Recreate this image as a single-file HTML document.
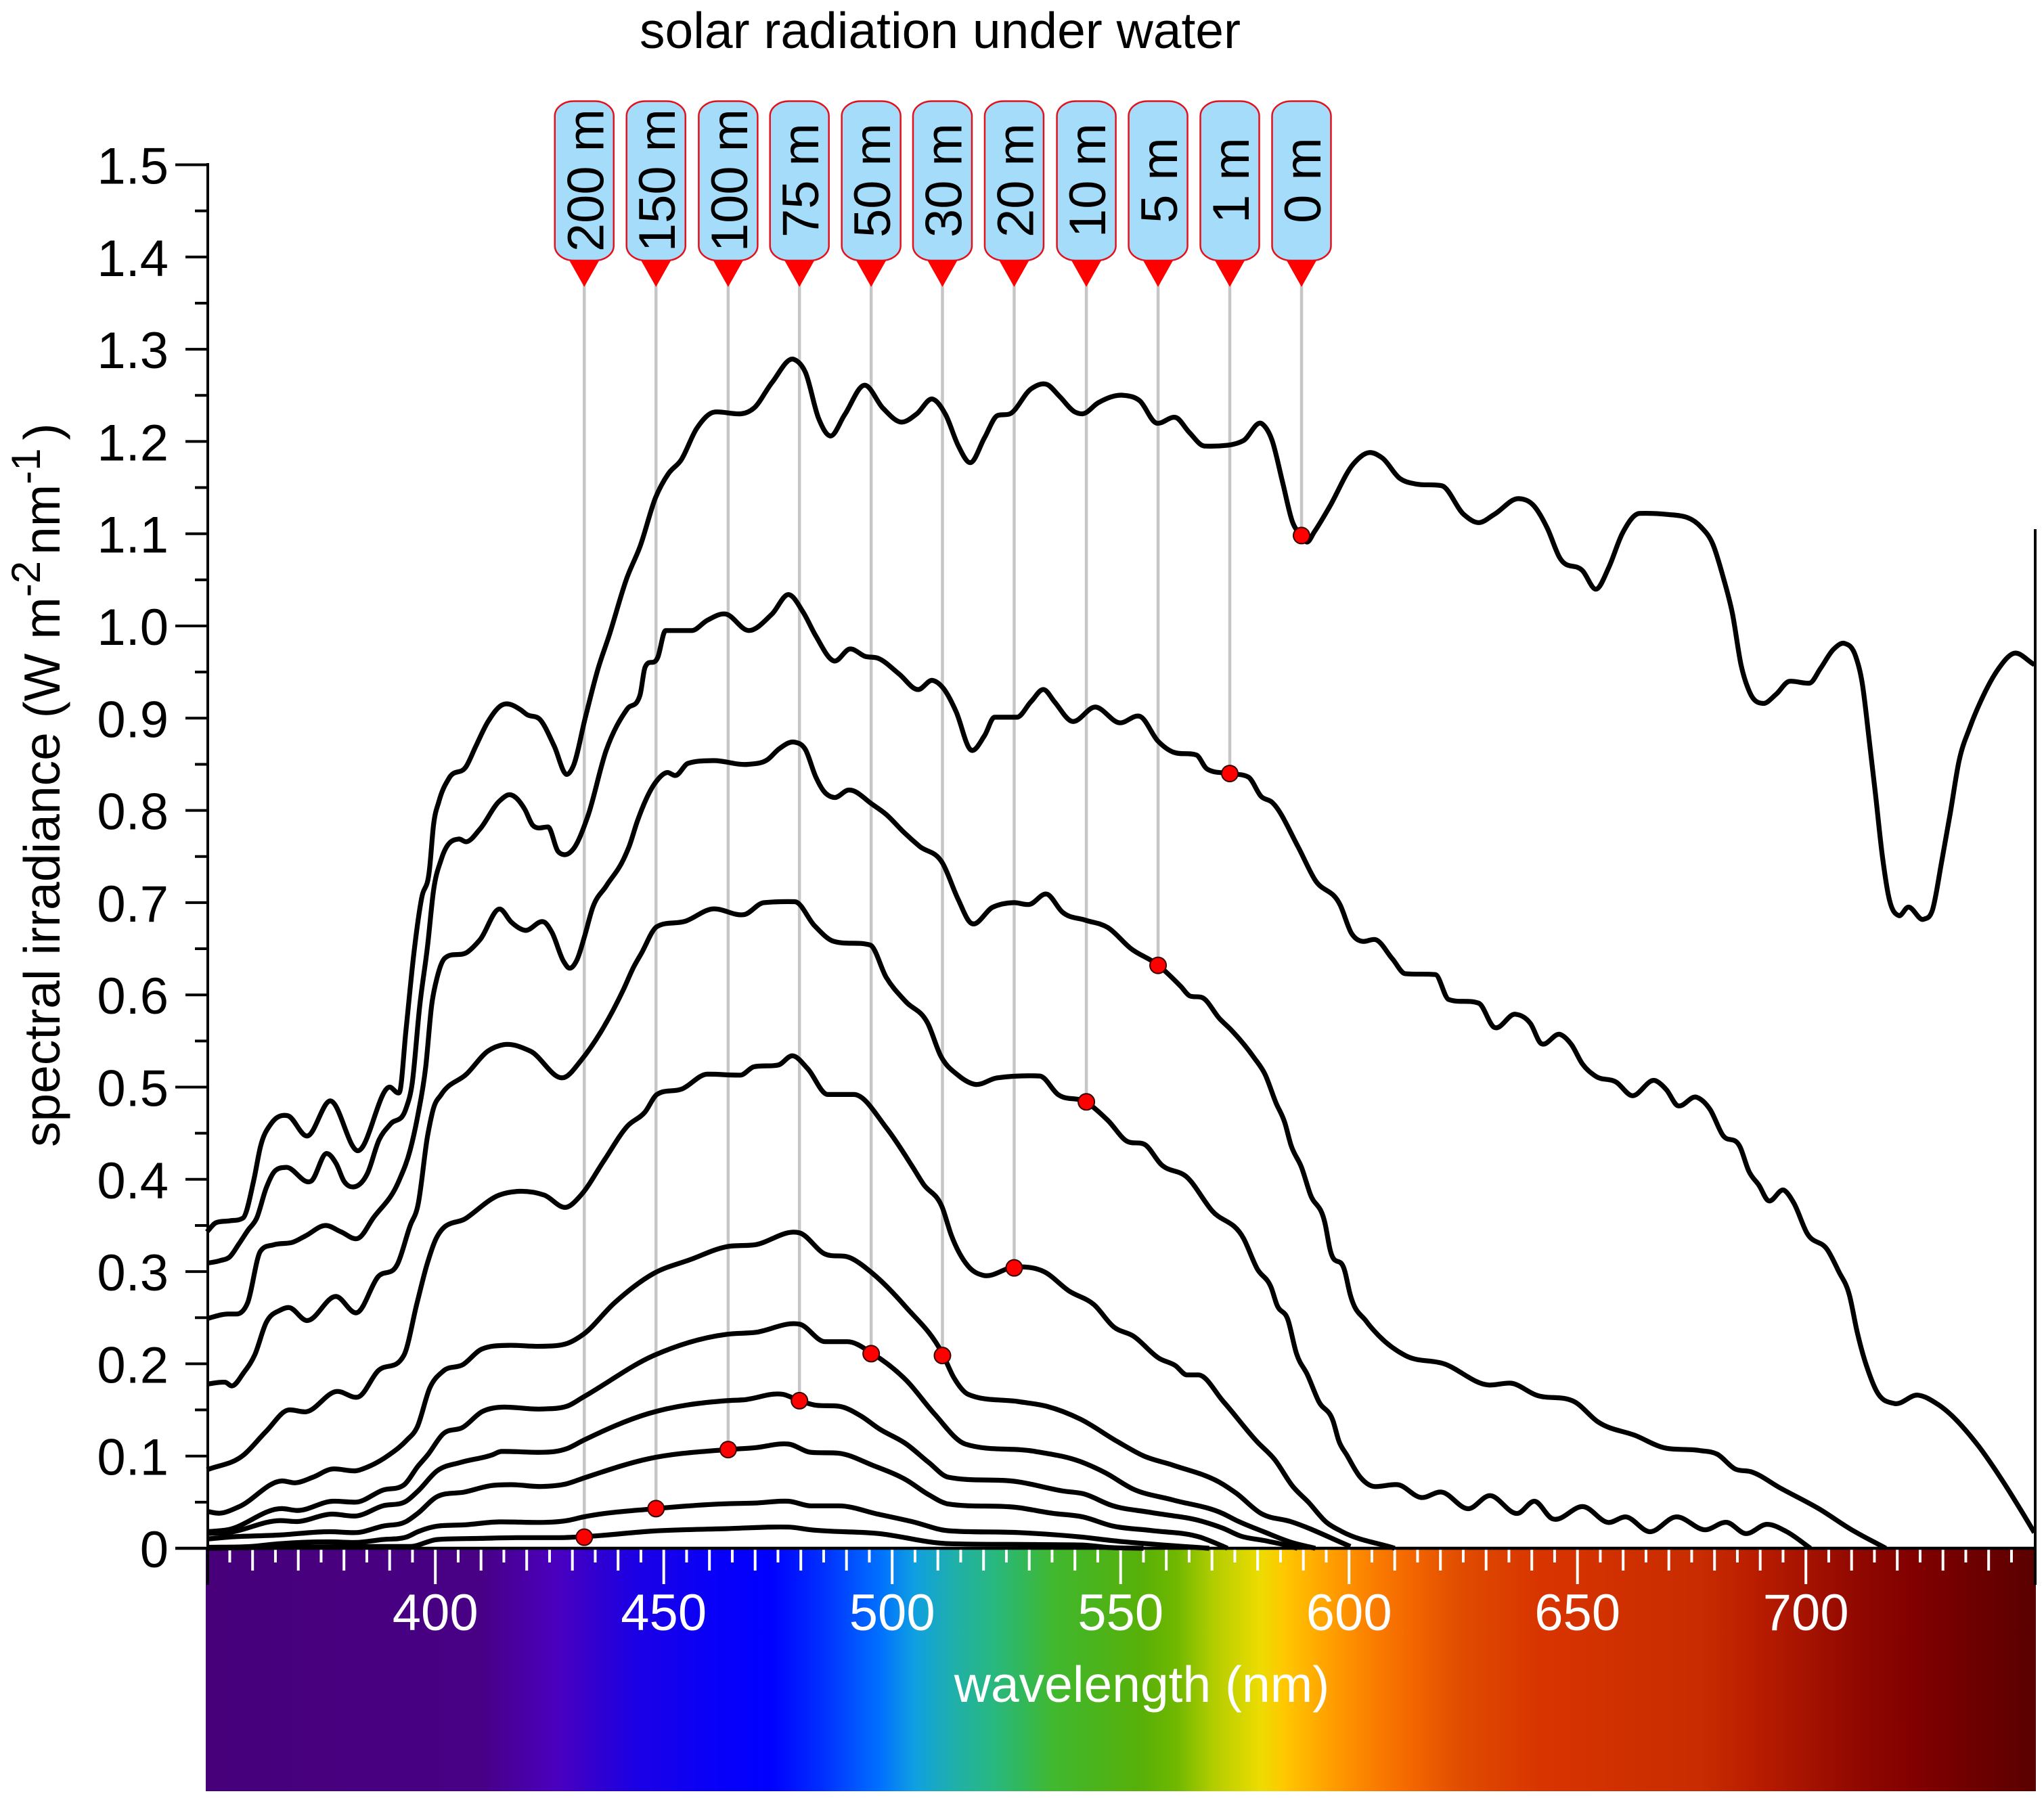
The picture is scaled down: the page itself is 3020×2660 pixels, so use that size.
<!DOCTYPE html>
<html lang="en">
<head>
<meta charset="utf-8">
<title>solar radiation under water</title>
<style>
html,body{margin:0;padding:0;background:#fff;}
svg{display:block;font-family:"Liberation Sans",sans-serif;}
</style>
</head>
<body>
<svg id="chart" xmlns="http://www.w3.org/2000/svg" width="3020" height="2660" viewBox="0 0 3020 2660">
  <defs><linearGradient id="spectrum" gradientUnits="userSpaceOnUse" x1="304" y1="0" x2="3008" y2="0"></linearGradient></defs>
  <rect x="0" y="0" width="3020" height="2660" fill="#fff"/>
  <text x="1389" y="71" font-size="75" text-anchor="middle" fill="#000">solar radiation under water</text>
  <text transform="translate(88,1695) rotate(-90)" font-size="75" fill="#000">spectral irradiance (W m<tspan font-size="60" dy="-29">-2</tspan><tspan dy="29" dx="9" font-size="75">nm</tspan><tspan font-size="60" dy="-29">-1</tspan><tspan dy="29" dx="12" font-size="75">)</tspan></text>
  <g id="spectrum-layer"></g>
  <g id="guide-layer"></g>
  <g id="curve-layer"></g>
  <g id="axis-layer"></g>
  <g id="marker-layer"></g>
  <text x="1687" y="2515" font-size="75" text-anchor="middle" fill="#fff">wavelength (nm)</text>
</svg>
<script>
// ---- categories ----
const depths = ['0 m','1 m','5 m','10 m','20 m','30 m','50 m','75 m','100 m','150 m','200 m'];

// ---- series values: wavelength (nm) and irradiance (W m-2 nm-1) ----
const wl0m = [
350,352,355,357.9,360.3,361.7,364,367.7,372,377,
383,390,392.1,393.6,395.3,397,398.7,399.6,400.8,403,
406.8,408.9,411.5,414.9,418.7,420,423,426,428.8,430.2,
432.8,435.7,438,442,444.8,448.2,451,453.8,457.2,461.2,
466.9,469.7,473.7,478.5,481,483.9,486.4,489.6,493.9,498,
502,505.4,508.8,511.7,514.5,517.1,520.2,523,525.8,530.4,
533.8,536.6,540,541.7,545.1,550.8,554.2,557.8,562.1,565,
568.4,573.5,576.9,581,583.1,585.4,587.6,589.6,590.8,592.4,595.6,
601,604.4,607.3,611.1,614.5,620.3,625.1,628.3,631.8,637.1,
640.5,643.4,646.1,651.1,654.2,656.9,659.8,663.6,669.4,677.1,
679.6,682,683.9,685.8,687.7,690.6,693.5,696.4,700.8,703.2,
706.1,708.5,710.9,712.3,713.8,715.2,716.7,718.1,720.3,722.3,
725.8,727.7,729.7,731.6,733.5,735.9,738.8,742.2,745.3,750];
const val0m = [
.343,.353,.355,.358,.40,.435,.46,.469,.447,.485,
.431,.5,.494,.563,.645,.705,.735,.784,.81,.835,
.848,.87,.896,.915,.909,.904,.898,.87,.839,.848,
.90,.955,.989,1.053,1.086,1.139,1.165,1.18,1.214,1.232,
1.23,1.236,1.264,1.289,1.275,1.225,1.206,1.229,1.261,1.236,
1.221,1.23,1.246,1.229,1.195,1.177,1.204,1.228,1.23,1.257,
1.262,1.249,1.232,1.23,1.242,1.25,1.244,1.22,1.226,1.21,
1.195,1.196,1.201,1.219,1.202,1.157,1.113,1.098,1.091,1.102,1.128,
1.176,1.188,1.182,1.16,1.154,1.152,1.121,1.112,1.121,1.138,
1.13,1.106,1.074,1.06,1.04,1.064,1.1,1.122,1.121,1.107,
1.089,1.051,1.014,.958,.928,.916,.926,.94,.938,.954,
.975,.981,.967,.939,.879,.819,.752,.707,.686,.695,
.682,.692,.744,.797,.853,.89,.924,.954,.97,.958];

const wl1m = [
350,353,355,357,359,360.9,363,364.7,367.3,372.8,
376.2,378.3,380,382.4,385.1,387.7,390.2,393.6,394.9,396.6,
398.3,399.6,401.3,405.1,406.8,409.8,414,416.3,419.6,421.3,
422.5,424.7,426.8,428.2,430.2,433.4,437.4,442,444.8,445.9,
448.7,450.4,456.1,459.5,463.5,468.6,473.7,477.4,480.5,483.3,
487.3,490.7,494.1,496.9,501.5,505.7,508.8,511.1,514,517.1,
520.2,522.4,527.3,530.4,533.2,535.5,539.1,544.5,549.7,554.2,
558.2,561.6,566.6,568.9,573.8,578,580.8,583.1,588.8,592.5,
598.1,600.5,602.9,605.7,609.5,612.3,618.9,621.8,628.4,631.7,
636.4,639.7,642.1,646.3,648.7,651.1,653.9,658.6,661.7,667.1,
669.5,671.9,676.1,679,681.8,685.6,687.5,689.8,691.7,695.3,
697.4,700.2,704.8,707.2,709.5,711.2,712.8,713.6,715.4,719.3,
724.5,728.9,737.6,742.8,747.1,750];
const val1m = [
.309,.312,.316,.33,.345,.358,.391,.408,.413,.398,
.428,.417,.398,.392,.406,.443,.46,.477,.503,.589,
.653,.713,.747,.769,.766,.78,.81,.817,.801,.784,
.781,.782,.756,.752,.758,.794,.865,.91,.925,.955,
.966,.995,.995,1.006,1.013,.995,1.013,1.034,1.015,.989,
.962,.975,.967,.965,.948,.931,.941,.933,.907,.866,
.881,.901,.901,.918,.931,.918,.897,.912,.895,.902,
.875,.863,.86,.845,.84,.836,.815,.809,.761,.725,
.697,.667,.658,.66,.639,.623,.622,.595,.591,.565,
.579,.569,.547,.557,.546,.525,.512,.505,.491,.507,
.497,.48,.489,.476,.448,.435,.409,.393,.377,.388,
.374,.342,.323,.3,.275,.235,.205,.193,.171,.157,
.166,.156,.112,.075,.041,.017];

const wl5m = [
350,354.6,356.5,358.9,361.7,364.6,368.9,371.7,376,379.4,
383.1,386.4,392,394.5,396.2,397.9,399.2,400.4,402.1,407.2,
409.8,414.2,416.6,419.6,423.8,425.5,428.1,429.3,431,432.7,
434.4,437.4,441.2,442.5,444.2,448,450.6,452.7,455.3,460.8,
468.5,472.7,475.3,478.6,481,483.3,485,487.3,490.4,495.8,
498.6,502.6,506,511,514.4,517.2,522,526.6,530,534,537.2,
542.3,547.2,552.3,558,563.2,565.1,567.9,571.7,574,579.2,
581.6,584,585.9,587.3,589.6,591.5,594.8,595.8,599.1,600.2,
603.8,606.6,612.3,620.8,630.5,635.4,641,649.3,654.5,662.8,
668.9,676.7,680.6,684.5,688,694.5,702.8,709.7,717.5];
const val5m = [
.249,.254,.254,.266,.322,.329,.332,.339,.35,.343,
.336,.358,.398,.432,.47,.522,.589,.619,.64,.647,
.66,.693,.679,.67,.679,.668,.636,.629,.638,.664,
.694,.718,.747,.762,.788,.829,.841,.838,.851,.854,
.85,.855,.867,.874,.866,.836,.821,.814,.822,.806,
.796,.776,.761,.743,.704,.678,.695,.70,.698,.709,.69,
.681,.673,.65,.633,.609,.599,.597,.574,.563,.532,
.514,.483,.462,.437,.413,.384,.351,.325,.3,.276,
.246,.23,.209,.2,.177,.179,.166,.159,.137,.122,
.109,.106,.102,.086,.083,.065,.043,.021,0];

const wl10m = [
350,354,355.5,358,360.5,363,366,368,371.7,378.3,
383.1,387.4,391.7,394.5,396.2,398.3,399.6,401.3,406.8,411.5,
414.9,420.8,428.5,431.9,441.2,443.4,445.1,448.5,454.8,460.4,
467.6,471.9,478.7,483,487.2,495.2,498.7,502.9,507.8,510.6,
514.4,518.1,522.9,532.3,536.3,542.3,547.2,551.5,555.2,558.9,
564.6,570,576.9,579.9,583,584.2,586.6,588.5,590.9,593.4,
596.5,597.8,599.5,602.5,605.5,610.6,615.8,620.2,626.3,630.6,637.1,
640.6,644.5,651.5,656.7,660.6,665.8,671.5,678,682.8,686.7,
691.5,695.8,701];
const val10m = [
.178,.18,.176,.19,.21,.245,.258,.261,.247,.273,
.256,.294,.308,.35,.372,.447,.477,.492,.514,.539,
.546,.539,.511,.529,.606,.63,.645,.674,.68,.693,
.687,.70,.701,.675,.658,.654,.619,.593,.569,.534,
.513,.503,.51,.512,.492,.484,.464,.441,.438,.416,
.402,.366,.336,.303,.282,.264,.248,.211,.188,.159,
.138,.116,.1012,.0768,.067,.069,.055,.061,.043,.057,.038,
.051,.032,.045,.028,.034,.018,.034,.02,.028,.016,
.026,.018,0];

const wl20m = [
350,358,363,367.9,371.7,378.3,383.1,387.4,393.1,396,
398.2,400.2,406.8,414,418.3,423.8,428.9,431.9,437,442.1,
445.9,448.5,454,459.5,466.8,469.7,475.1,478.2,481.5,485.9,
491.6,498.7,504.4,506.8,511,512.9,516.6,519.9,526.8,533.2,
538.7,544.2,548.5,552.8,558.4,562,564.5,567,572.5,579.8,
583.7,587.7,591.1,595.1,598.5,610];
const val20m = [
.085,.101,.127,.15,.148,.17,.164,.192,.209,.266,
.308,.336,.358,.383,.387,.383,.37,.383,.421,.458,
.473,.492,.498,.514,.513,.522,.524,.534,.52,.492,
.492,.456,.414,.395,.369,.34,.306,.296,.305,.30,
.279,.264,.24,.23,.206,.198,.188,.188,.159,.116,
.0963,.067,.05,.028,.018,0];

const wl30m = [
350,352.8,357,366.4,369.4,373.2,377.5,382.6,385.1,389.8,
393.7,396,398.8,401.7,406,410.2,416,423.2,428.8,432.4,
439.2,447.8,455.8,463.8,469.9,479.7,485.3,490.8,495.7,503.1,
511,513.5,516.6,527.7,533.8,541.2,549.2,555.1,561.5,572.4,
575.3,580.8,587.2,600.3];
const val30m = [
.04,.038,.045,.073,.071,.077,.086,.084,.088,.101,
.117,.131,.174,.192,.199,.216,.22,.219,.222,.232,
.266,.298,.313,.327,.329,.342,.319,.315,.298,.261,
.211,.185,.167,.159,.154,.14,.116,.1,.09,.0694,
.0597,.0376,.029,.002];

const wl50m = [
350,354.5,366.4,369.8,377.5,382.6,388.5,393.2,396.2,398.3,
401.7,406,410.2,414.5,423.2,428.8,432.4,447.8,463.8,469.9,
479.7,485.3,490.2,495.7,503.1,509.2,516,531.3,541.2,546.7,
552.6,561.5,572.4,575.3,581.3,587.7,592.6];
const val50m = [
.018,.02,.043,.041,.051,.05,.063,.069,.089,.101,
.124,.131,.148,.153,.151,.154,.164,.209,.232,.234,
.243,.224,.224,.211,.182,.146,.113,.105,.094,.0817,
.0645,.0523,.0376,.0303,.018,.0059,0];

const wl75m = [
350,354.5,366,369.8,377,382.6,388.5,393.6,396.2,400.4,
405.5,412.3,414.5,423.2,428.8,432.4,446.6,463.8,467.5,476,
479.7,483.4,488.3,493.3,497,503.1,508,512.3,527.7,537.5,
541.75,548.2,556.6,567.9,572.4,576.3,581.3,586.2,588.7];
const val75m = [
.016,.017,.03,.029,.037,.035,.046,.051,.062,.084,
.093,.101,.105,.104,.108,.117,.146,.16,.161,.167,
.16,.155,.154,.143,.13,.113,.093,.077,.072,.062,
.0592,.0462,.0388,.0291,.0217,.0132,.0085,.0034,0];

const wl100m = [
350,354.5,366,377,382.6,388.5,393.6,396.2,400.4,406.4,
412.3,416.6,423.2,428.8,432.4,446.6,463.9,469.9,477.3,482.2,
488.3,495.7,503.1,508,512.3,527.7,535,541.75,548.2,556.6,
567.4,572.4,573.4];
const val100m = [
.01,.012,.0144,.018,.017,.024,.029,.038,.056,.061,
.068,.069,.067,.07,.076,.097,.107,.109,.113,.104,
.103,.09,.074,.058,.048,.044,.038,.034,.0242,.0193,
.012,.0022,0];

const wl150m = [
350,359.6,366,377,382.6,388.5,393.6,396.2,400.4,406.4,
414,423.2,428.8,432.4,448.3,463.8,469.9,477.3,482.2,488.3,
496.9,504.3,512.3,527.7,541.75,548.2,556.6,569.4];
const val150m = [
.001,.002,.005,.007,.0063,.0095,.012,.018,.024,.0254,
.0286,.028,.03,.034,.043,.0483,.049,.051,.046,.046,
.037,.029,.019,.017,.012,.0083,.0046,0];

const wl200m = [350,385.1,394.5,400.4,409.8,418.3,426.8,432.6,447.8,463.8,
477.3,482.2,496.9,512.3,531.3,541.75,547,555];
const val200m = [0,.002,.002,.0095,.0107,.0115,.0115,.0126,.0187,.0213,
.023,.02,.016,.005,.004,.0035,.001,0];

// ---- depth markers ----
const markerDepths = ['200 m','150 m','100 m','75 m','50 m','30 m','20 m','10 m','5 m','1 m','0 m'];
const markerWl = [432.6,448.3,464.1,479.7,495.4,511,526.7,542.5,558.2,573.9,589.6];
const markerVal = [.012,.043,.107,.16,.211,.209,.304,.484,.632,.84,1.098];

// ---- tick labels ----
const yTickLabels = ['0','0.1','0.2','0.3','0.4','0.5','0.6','0.7','0.8','0.9','1.0','1.1','1.2','1.3','1.4','1.5'];
const xTickLabels = [400,450,500,550,600,650,700];

// ---- spectrum colours ----
const spectrumWl = [350,410,427,435.3,443.8,460.8,473.5,485,497.3,505,514,522,527.5,535,542.7,554.7,562.3,570,580.4,585.7,595.6,604.6,613,624.5,642,676.7,689.7,702.8,711.5,724.5,750];
const spectrumColor = ['#47007a','#480085','#4a00c0','#3000d0','#1c00e4','#0800f8','#0000ff','#0030ff','#0070ff','#10a0e0','#20b0a8','#28b880','#30b860','#40b830','#48b420','#58b008','#70b800','#b0cc00','#ecdc00','#ffc800','#ffa000','#fa8000','#f46800','#e04c00','#d83400','#c82c00','#b81c00','#a01000','#900800','#800000','#5a0000'];

const seriesWl = [wl0m,wl1m,wl5m,wl10m,wl20m,wl30m,wl50m,wl75m,wl100m,wl150m,wl200m];
const seriesVal = [val0m,val1m,val5m,val10m,val20m,val30m,val50m,val75m,val100m,val150m,val200m];

// ---- axis functions ----
const NS = 'http://www.w3.org/2000/svg';
function xScale(nm){ return 643.2 + (nm - 400) * 6.75; }
function yScale(v){ return 2288 - v * 1363; }
function mk(tag, parent, attrs){
  const el = document.createElementNS(NS, tag);
  for (const k in attrs) el.setAttribute(k, attrs[k]);
  parent.appendChild(el);
  return el;
}
function slug(s){ return s.replace(/\s+/g, '-'); }

// smooth cubic path through the data points
function curvePath(xs, ys){
  const n = Math.min(xs.length, ys.length);
  const px = [], py = [];
  for (let i = 0; i < n; i++){ px.push(xScale(xs[i])); py.push(yScale(ys[i])); }
  const d = [], m = new Array(n).fill(0);
  for (let i = 0; i < n - 1; i++) d.push((py[i+1]-py[i])/(px[i+1]-px[i]));
  m[0] = d[0]; m[n-1] = d[n-2];
  for (let i = 1; i < n - 1; i++){
    const h0 = px[i]-px[i-1], h1 = px[i+1]-px[i];
    const t = (h1*d[i-1] + h0*d[i])/(h0+h1);
    const lim = (d[i-1]*d[i] > 0 ? 3 : 1) * Math.min(Math.abs(d[i-1]), Math.abs(d[i]));
    m[i] = Math.max(-lim, Math.min(lim, t));
  }
  const base = yScale(0);
  function fy(v){ return Math.min(base, v).toFixed(1); }
  let s = 'M' + px[0].toFixed(1) + ' ' + py[0].toFixed(1);
  for (let i = 0; i < n - 1; i++){
    const h = (px[i+1]-px[i])/3;
    s += 'C' + (px[i]+h).toFixed(1) + ' ' + fy(py[i]+m[i]*h) + ' ' +
         (px[i+1]-h).toFixed(1) + ' ' + fy(py[i+1]-m[i+1]*h) + ' ' +
         px[i+1].toFixed(1) + ' ' + py[i+1].toFixed(1);
  }
  return s;
}

// ---- spectrum band ----
const grad = document.getElementById('spectrum');
const gx0 = 304, gx1 = 3008;
spectrumWl.forEach(function(w, i){
  mk('stop', grad, {offset: ((xScale(w)-gx0)/(gx1-gx0)).toFixed(4), 'stop-color': spectrumColor[i]});
});
const spectrumLayer = document.getElementById('spectrum-layer');
const band = mk('rect', spectrumLayer, {x: gx0, y: 2288, width: gx1-gx0, height: 359, fill: 'url(#spectrum)'});



// ---- x ticks ----
for (let nm = 355; nm < 750; nm += 5){
  const len = nm % 50 === 0 ? 53 : (nm % 10 === 0 ? 33 : 21);
  const t = mk('line', spectrumLayer, {x1: xScale(nm), x2: xScale(nm), y1: 2288, y2: 2288 + len, stroke: '#fff', 'stroke-width': 4});
  
  
}
xTickLabels.forEach(function(v){
  const t = mk('text', spectrumLayer, {x: xScale(v), y: 2409, 'font-size': 76, 'text-anchor': 'middle', fill: '#fff'});
  t.textContent = String(v);
  
  
});

// ---- guide lines ----
const guideLayer = document.getElementById('guide-layer');
markerWl.forEach(function(w, i){
  const g = mk('line', guideLayer, {x1: xScale(w), x2: xScale(w), y1: 420, y2: yScale(markerVal[i]), stroke: '#c6c6c6', 'stroke-width': 4.5});
  
  
});

// ---- curves ----
const curveLayer = document.getElementById('curve-layer');
depths.forEach(function(name, i){
  const p = mk('path', curveLayer, {d: curvePath(seriesWl[i], seriesVal[i]), fill: 'none', stroke: '#000', 'stroke-width': 7.2, 'stroke-linejoin': 'round', 'stroke-linecap': 'butt'});
  
  
});

// ---- axes ----
const axisLayer = document.getElementById('axis-layer');
const yAxis = mk('line', axisLayer, {x1: 307, x2: 307, y1: 241, y2: 2342, stroke: '#000', 'stroke-width': 4});


const xAxis = mk('line', axisLayer, {x1: 259, x2: 3008, y1: 2288, y2: 2288, stroke: '#000', 'stroke-width': 4.5});


const rightAxis = mk('line', axisLayer, {x1: 3007, x2: 3007, y1: 782, y2: 2342, stroke: '#000', 'stroke-width': 4});



for (let k = 1; k < 30; k++){
  const v = k * 0.05;
  const left = k % 10 === 0 ? 259 : (k % 2 === 0 ? 274 : 288);
  const t = mk('line', axisLayer, {x1: left, x2: 307, y1: yScale(v), y2: yScale(v), stroke: '#000', 'stroke-width': 4});
  
  
}
const topTick = mk('line', axisLayer, {x1: 259, x2: 309, y1: yScale(1.5), y2: yScale(1.5), stroke: '#000', 'stroke-width': 4});



yTickLabels.forEach(function(lbl){
  const t = mk('text', axisLayer, {x: 249, y: yScale(parseFloat(lbl)) + 28, 'font-size': 76, 'text-anchor': 'end', fill: '#000'});
  t.textContent = lbl;
  
  
});

// ---- markers ----
const markerLayer = document.getElementById('marker-layer');
markerDepths.forEach(function(name, i){
  const cx = xScale(markerWl[i]);
  const box = mk('rect', markerLayer, {x: cx-43.5, y: 149.5, width: 87, height: 235.5, rx: 28, ry: 22, fill: '#a4dcf9', stroke: '#e4101c', 'stroke-width': 2.5});
  
  
  const tri = mk('polygon', markerLayer, {points: (cx-22)+',385 '+(cx+22)+',385 '+cx+',424', fill: '#ff0000'});
  
  
  const txt = mk('text', markerLayer, {transform: 'translate(' + (cx+28) + ',266.5) rotate(-90)', 'font-size': 76, 'text-anchor': 'middle', fill: '#000'});
  txt.textContent = name;
  
  
  const dot = mk('circle', markerLayer, {cx: cx, cy: yScale(markerVal[i]), r: 12, fill: '#ff0000', stroke: '#300', 'stroke-width': 2});
  
  
});
</script>
</body>
</html>
